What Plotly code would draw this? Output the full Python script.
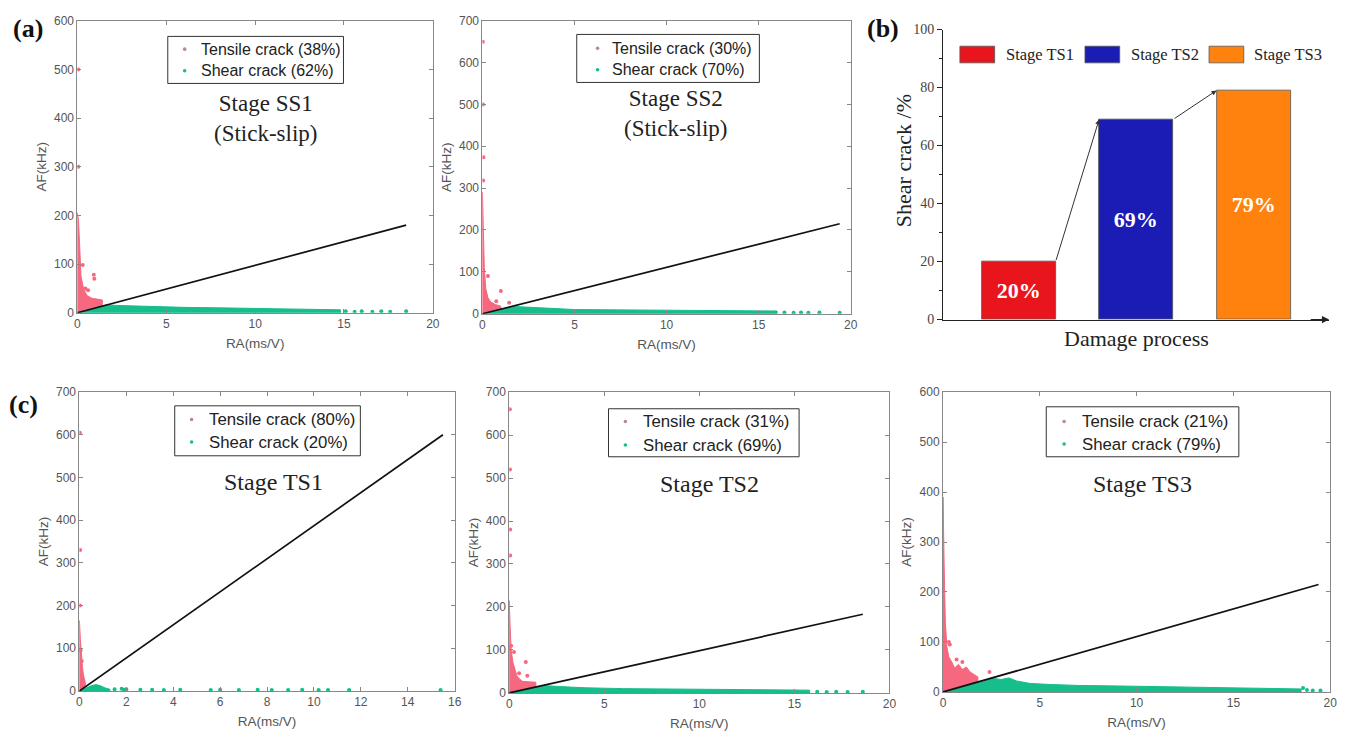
import plotly.graph_objects as go

W, H = 1358, 746

# ---------------- DATA ----------------
# Stage SS1 (Stick-slip)
ss1_tens_x = [0, 0, 0.06, 0.12, 0.2, 0.35, 0.55, 0.8, 1.1, 1.4, 1.4, 0]
ss1_tens_y = [0, 205, 190, 120, 75, 48, 35, 30, 28, 26, 13.5, 0]
ss1_tens_px = [0.05, 0.3, 0.45, 0.6, 0.95, 0.92, 0.05]
ss1_tens_py = [500, 98, 50, 46, 70, 78, 300]
ss1_shear_x = [0, 1.0, 1.6, 2.2, 3.0, 4.5, 6.0, 8.0, 10.0, 12.0, 14.0, 14.8, 14.8, 0]
ss1_shear_y = [0, 9.5, 16, 15, 14, 12, 11, 10, 9, 8, 7, 6, 0, 0]
ss1_shear_px = [15.1, 15.6, 16.0, 16.6, 17.1, 17.6, 18.5]
ss1_shear_py = [3, 2, 3, 2, 3, 2, 3]
ss1_line_x = [0, 18.5]
ss1_line_y = [0, 180]

# Stage SS2 (Stick-slip)
ss2_tens_x = [0, 0, 0.05, 0.1, 0.18, 0.3, 0.45, 0.7, 1.0, 1.0, 0]
ss2_tens_y = [0, 290, 200, 110, 60, 38, 28, 22, 18, 11, 0]
ss2_tens_px = [0.02, 0.03, 0.05, 0.04, 1.0, 1.45, 0.75, 0.3]
ss2_tens_py = [650, 500, 374, 318, 54, 26, 30, 90]
ss2_shear_x = [0, 1.2, 1.8, 2.6, 3.5, 5, 8, 11, 14, 16, 16, 0]
ss2_shear_y = [0, 13, 17, 15, 12, 10, 9, 8, 7.5, 6.5, 0, 0]
ss2_shear_px = [16.4, 16.9, 17.3, 17.7, 18.3, 19.4]
ss2_shear_py = [3, 2, 3, 2, 3, 2]
ss2_line_x = [0, 19.4]
ss2_line_y = [0, 215]

# Stage TS1
ts1_tens_x = [0, 0, 0.04, 0.08, 0.13, 0.18, 0.25, 0.25, 0]
ts1_tens_y = [0, 165, 120, 80, 55, 35, 20, 9.5, 0]
ts1_tens_px = [0.02, 0.03, 0.02, 0.05, 0.1]
ts1_tens_py = [605, 330, 200, 95, 70]
ts1_shear_x = [0, 0.3, 0.5, 0.7, 0.9, 1.1, 1.3, 1.3, 0]
ts1_shear_y = [0, 8, 12, 15, 12, 7, 4, 0, 0]
ts1_shear_px = [1.5, 1.8, 1.9, 2.0, 2.6, 3.1, 3.6, 4.3, 5.6, 6.0, 6.8, 7.6, 8.2, 8.9, 9.5, 10.2, 10.6, 11.5, 15.4]
ts1_shear_py = [4, 5, 3, 4, 3, 3, 2, 3, 2, 3, 2, 3, 2, 2, 3, 2, 2, 2, 2]
ts1_line_x = [0, 15.5]
ts1_line_y = [0, 600]

# Stage TS2
ts2_tens_x = [0, 0, 0.05, 0.1, 0.2, 0.3, 0.4, 0.55, 0.7, 1.0, 1.4, 1.4, 0]
ts2_tens_y = [0, 215, 150, 100, 70, 55, 40, 32, 27, 26, 25, 13.8, 0]
ts2_tens_px = [0.03, 0.04, 0.05, 0.05, 0.87, 0.52, 0.95, 0.25, 0.1]
ts2_tens_py = [660, 520, 380, 320, 72, 46, 40, 95, 110]
ts2_shear_x = [0, 1.3, 1.8, 2.6, 4.0, 6, 8, 10, 12, 14, 15.8, 15.8, 0]
ts2_shear_y = [0, 12.8, 17, 15, 12, 10, 9, 8.5, 8, 7.5, 6.5, 0, 0]
ts2_shear_px = [16.2, 16.7, 17.2, 17.8, 18.6]
ts2_shear_py = [3, 2, 3, 2, 3]
ts2_line_x = [0, 18.6]
ts2_line_y = [0, 183]

# Stage TS3
ts3_tens_x = [0, 0, 0.06, 0.12, 0.2, 0.3, 0.45, 0.6, 0.8, 1.0, 1.2, 1.4, 1.6, 1.8, 1.8, 0]
ts3_tens_y = [0, 390, 250, 140, 90, 70, 60, 48, 55, 45, 50, 40, 35, 30, 20, 0]
ts3_tens_px = [0.3, 0.35, 1.0, 2.4, 0.7]
ts3_tens_py = [100, 95, 60, 40, 65]
ts3_shear_x = [0, 2.2, 2.6, 3.0, 3.4, 3.8, 4.5, 5.5, 7, 9, 11, 13, 15, 17, 18.5, 18.5, 0]
ts3_shear_y = [0, 24, 27, 25, 28, 22, 17, 15, 13, 12, 11, 10, 9, 8, 6, 0, 0]
ts3_shear_px = [18.8, 19.1, 19.5, 18.6]
ts3_shear_py = [4, 3, 3, 8]
ts3_line_x = [0, 19.4]
ts3_line_y = [0, 215]

# Bar chart (b)
bar_stages = ["Stage TS1", "Stage TS2", "Stage TS3"]
bar_pos = [1, 2, 3]
bar_values = [20, 69, 79]
bar_colors = ["#e8161c", "#1a1cb4", "#ff820e"]

legend_pcts = {
    "ss1": (38, 62), "ss2": (30, 70), "ts1": (80, 20), "ts2": (31, 69), "ts3": (21, 79)
}

# ---------------- STYLE ----------------
PINK = "#f5687f"
TEAL = "#16be8c"
SANS = "Liberation Sans"
SERIF = "Liberation Serif"


def px(x):
    return x / W


def py(y):
    return 1 - y / H


fig = go.Figure()

panels = [
    ("ss1", "", (ss1_tens_x, ss1_tens_y, ss1_tens_px, ss1_tens_py,
                 ss1_shear_x, ss1_shear_y, ss1_shear_px, ss1_shear_py,
                 ss1_line_x, ss1_line_y)),
    ("ss2", "2", (ss2_tens_x, ss2_tens_y, ss2_tens_px, ss2_tens_py,
                  ss2_shear_x, ss2_shear_y, ss2_shear_px, ss2_shear_py,
                  ss2_line_x, ss2_line_y)),
    ("ts1", "4", (ts1_tens_x, ts1_tens_y, ts1_tens_px, ts1_tens_py,
                  ts1_shear_x, ts1_shear_y, ts1_shear_px, ts1_shear_py,
                  ts1_line_x, ts1_line_y)),
    ("ts2", "5", (ts2_tens_x, ts2_tens_y, ts2_tens_px, ts2_tens_py,
                  ts2_shear_x, ts2_shear_y, ts2_shear_px, ts2_shear_py,
                  ts2_line_x, ts2_line_y)),
    ("ts3", "6", (ts3_tens_x, ts3_tens_y, ts3_tens_px, ts3_tens_py,
                  ts3_shear_x, ts3_shear_y, ts3_shear_px, ts3_shear_py,
                  ts3_line_x, ts3_line_y)),
]

for key, sfx, d in panels:
    tx, ty, tpx, tpy, sx, sy, spx, spy, lx, ly = d
    xa, ya = "x" + sfx, "y" + sfx
    tp, sp = legend_pcts[key]
    fig.add_trace(go.Scatter(x=tx, y=ty, mode="lines", fill="toself", fillcolor=PINK,
                             line=dict(color=PINK, width=1), xaxis=xa, yaxis=ya,
                             name=f"Tensile crack ({tp}%)", showlegend=False, hoverinfo="skip"))
    fig.add_trace(go.Scatter(x=sx, y=sy, mode="lines", fill="toself", fillcolor=TEAL,
                             line=dict(color=TEAL, width=1), xaxis=xa, yaxis=ya,
                             name=f"Shear crack ({sp}%)", showlegend=False, hoverinfo="skip"))
    fig.add_trace(go.Scatter(x=tpx, y=tpy, mode="markers", xaxis=xa, yaxis=ya,
                             marker=dict(color=PINK, size=4, symbol="circle"),
                             showlegend=False, hoverinfo="skip"))
    fig.add_trace(go.Scatter(x=spx, y=spy, mode="markers", xaxis=xa, yaxis=ya,
                             marker=dict(color=TEAL, size=4, symbol="circle"),
                             showlegend=False, hoverinfo="skip"))
    fig.add_trace(go.Scatter(x=lx, y=ly, mode="lines", line=dict(color="#111", width=1.7),
                             xaxis=xa, yaxis=ya, showlegend=False, hoverinfo="skip"))

fig.add_trace(go.Bar(x=bar_pos, y=bar_values, width=0.63, marker=dict(color=bar_colors,
                     line=dict(color="#555", width=0.8)),
                     texttemplate="<b>%{y}%</b>", textposition="inside",
                     insidetextanchor="middle", textangle=0,
                     textfont=dict(family=SERIF, size=22, color="white"),
                     xaxis="x3", yaxis="y3", showlegend=False, hoverinfo="skip"))


def sc_axis(dom, rng, dtick, title, standoff, anchor):
    return dict(domain=dom, range=rng, dtick=dtick, tick0=0, showline=True, mirror="ticks",
                linecolor="#888", linewidth=1, ticks="inside", ticklen=4, tickcolor="#888",
                showgrid=False, zeroline=False, anchor=anchor,
                tickfont=dict(family=SANS, size=12, color="#555"),
                title=dict(text=title, font=dict(family=SANS, size=13.5, color="#555"),
                           standoff=standoff))


layout = dict(
    width=W, height=H, margin=dict(l=0, r=0, t=0, b=0),
    paper_bgcolor="white", plot_bgcolor="white", bargap=0, showlegend=False,
)

layout["xaxis"] = sc_axis([px(75), px(433)], [0, 20], 5, "RA(ms/V)", 8, "y")
layout["yaxis"] = sc_axis([py(312), py(14)], [0, 600], 100, "AF(kHz)", 4, "x")
layout["xaxis2"] = sc_axis([px(483), px(854)], [0, 20], 5, "RA(ms/V)", 8, "y2")
layout["yaxis2"] = sc_axis([py(313), py(14)], [0, 700], 100, "AF(kHz)", 4, "x2")
layout["xaxis4"] = sc_axis([px(77), px(455)], [0, 16], 2, "RA(ms/V)", 8, "y4")
layout["yaxis4"] = sc_axis([py(698), py(393)], [0, 700], 100, "AF(kHz)", 4, "x4")
layout["xaxis5"] = sc_axis([px(510), px(893)], [0, 20], 5, "RA(ms/V)", 8, "y5")
layout["yaxis5"] = sc_axis([py(700), py(393)], [0, 700], 100, "AF(kHz)", 4, "x5")
layout["xaxis6"] = sc_axis([px(947), px(1337)], [0, 20], 5, "RA(ms/V)", 8, "y6")
layout["yaxis6"] = sc_axis([py(699), py(393)], [0, 600], 100, "AF(kHz)", 4, "x6")

layout["xaxis3"] = dict(domain=[px(947), px(1336)], range=[0.356, 3.644], showline=True,
                        linecolor="#222", linewidth=1.2, showticklabels=False, ticks="",
                        showgrid=False, zeroline=False, anchor="y3")
layout["yaxis3"] = dict(domain=[py(319), py(23)], range=[0, 100], dtick=20, showline=True,
                        linecolor="#222", linewidth=1.2, ticks="outside", ticklen=5,
                        tickcolor="#222", showgrid=False, zeroline=False, anchor="x3",
                        minor=dict(dtick=10, ticks="outside", ticklen=3, tickcolor="#222"),
                        tickfont=dict(family=SERIF, size=14, color="#444"))

annotations = []
shapes = []


def txt(x, y, s, size, family=SERIF, color="#222", xanchor="center", **kw):
    annotations.append(dict(x=px(x), y=py(y), xref="paper", yref="paper", text=s,
                            showarrow=False, font=dict(family=family, size=size, color=color),
                            xanchor=xanchor, yanchor="middle", **kw))


# Legend boxes for the scatter panels (box, marker x, text x, line ys, font size)
legend_boxes = [
    ("ss1", (166, 30, 343, 78), 183, 197, (43, 65), 16),
    ("ss2", (578, 28, 762, 77), 599, 611, (42, 64), 16),
    ("ts1", (173, 407, 360, 458), 190, 206, (421, 444), 16.8),
    ("ts2", (610, 410, 802, 459), 627, 643, (423, 447), 16.8),
    ("ts3", (1051, 408, 1245, 459), 1069, 1085, (423, 446), 16.8),
]
for key, (bx0, by0, bx1, by1), mx, tx0, (l1, l2), fs in legend_boxes:
    tp, sp = legend_pcts[key]
    shapes.append(dict(type="rect", xref="paper", yref="paper", x0=px(bx0), x1=px(bx1),
                       y0=py(by1), y1=py(by0), fillcolor="white",
                       line=dict(color="#333", width=1), layer="above"))
    for ly_, col in ((l1, "#b58a90"), (l2, TEAL)):
        shapes.append(dict(type="circle", xref="paper", yref="paper",
                           x0=px(mx - 1.8), x1=px(mx + 1.8), y0=py(ly_ + 1.8), y1=py(ly_ - 1.8),
                           fillcolor=col, line=dict(width=0), layer="above"))
    txt(tx0, l1, f"Tensile crack ({tp}%)", fs, family=SANS, color="#222", xanchor="left")
    txt(tx0, l2, f"Shear crack ({sp}%)", fs, family=SANS, color="#222", xanchor="left")

txt(25, 22, "<b>(a)</b>", 26, color="#111")
txt(887, 22, "<b>(b)</b>", 26, color="#111")
txt(21, 406, "<b>(c)</b>", 26, color="#111")

txt(265, 114, "Stage SS1<br>(Stick-slip)", 23)
txt(678, 109, "Stage SS2<br>(Stick-slip)", 23)
txt(273, 485, "Stage TS1", 24)
txt(712, 487, "Stage TS2", 24)
txt(1148, 487, "Stage TS3", 24)

txt(1142, 338, "Damage process", 22)
txt(908, 157, "Shear crack /%", 22, textangle=-90)

leg_sw = [(964, 999), (1090, 1125), (1215, 1250)]
leg_tx = [1008, 1134, 1258]
for (x0, x1), tx0, c, s in zip(leg_sw, leg_tx, bar_colors, bar_stages):
    shapes.append(dict(type="rect", xref="paper", yref="paper", x0=px(x0), x1=px(x1),
                       y0=py(57), y1=py(40), fillcolor=c, line=dict(color="#555", width=0.8)))
    txt(tx0, 48, s, 16.5, xanchor="left")

bw = 0.63
for i in range(len(bar_values) - 1):
    annotations.append(dict(x=bar_pos[i + 1] - bw / 2, y=bar_values[i + 1],
                            ax=bar_pos[i] + bw / 2, ay=bar_values[i],
                            xref="x3", yref="y3", axref="x3", ayref="y3", text="",
                            showarrow=True, arrowhead=2, arrowsize=1, arrowwidth=1,
                            arrowcolor="#333", standoff=0, startstandoff=0))
annotations.append(dict(x=3.644, y=0, xref="x3", yref="y3", ax=-20, ay=0, text="",
                        showarrow=True, arrowhead=2, arrowsize=1.2, arrowwidth=1.2,
                        arrowcolor="#222", standoff=0))

layout["annotations"] = annotations
layout["shapes"] = shapes

fig.update_layout(**layout)
fig.write_html("out.html")
